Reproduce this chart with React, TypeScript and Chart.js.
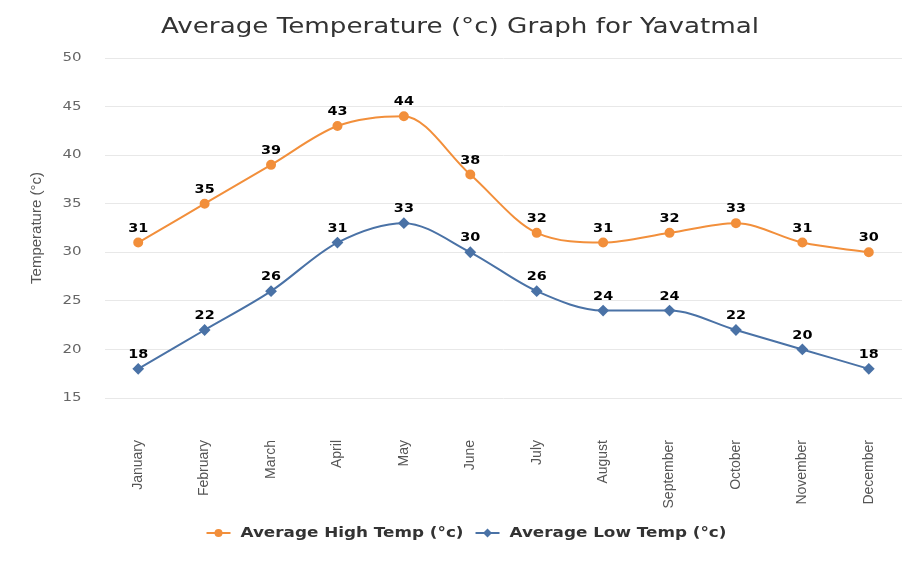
import React, { useEffect, useRef } from "react";
import { Chart, registerables } from "chart.js";

Chart.register(...registerables);

const months = ["January", "February", "March", "April", "May", "June", "July", "August", "September", "October", "November", "December"];
const highTemps = [31, 35, 39, 43, 44, 38, 32, 31, 32, 33, 31, 30];
const lowTemps = [18, 22, 26, 31, 33, 30, 26, 24, 24, 22, 20, 18];
const highLabel = "Average High Temp (°c)";
const lowLabel = "Average Low Temp (°c)";
const chartTitle = "Average Temperature (°c) Graph for Yavatmal";
const yTitle = "Temperature (°c)";

const ORANGE = "#f28f3b";
const BLUE = "#4a72a6";

function stretchText(ctx: CanvasRenderingContext2D, text: string, x: number, y: number, align: CanvasTextAlign, sx: number) {
  ctx.save();
  ctx.translate(x, y);
  ctx.scale(sx, 1);
  ctx.textAlign = align;
  ctx.fillText(text, 0, 0);
  ctx.restore();
}

const textPlugin = {
  id: "textPlugin",
  afterDraw(chart: any) {
    const ctx: CanvasRenderingContext2D = chart.ctx;
    ctx.save();
    ctx.textBaseline = "middle";

    // title
    ctx.fillStyle = "#333";
    ctx.font = "22px 'DejaVu Sans'";
    stretchText(ctx, chartTitle, 460, 27, "center", 1.19);

    // y tick labels
    const ys = chart.scales.y;
    ctx.fillStyle = "#666";
    ctx.font = "12px 'DejaVu Sans'";
    ys.ticks.forEach((t: any) => {
      stretchText(ctx, String(t.value), 81.5, ys.getPixelForValue(t.value), "right", 1.25);
    });

    // legend
    const sx = 1.2;
    ctx.font = "bold 14px 'DejaVu Sans'";
    const items = [
      { label: highLabel, color: ORANGE, style: "circle" },
      { label: lowLabel, color: BLUE, style: "diamond" },
    ];
    const iconW = 24;
    const gap = 10;
    const itemGap = 12;
    const widths = items.map((it) => ctx.measureText(it.label).width * sx);
    const total = widths.reduce((a, w) => a + iconW + gap + w, 0) + itemGap;
    let x = 466.5 - total / 2;
    const ly = 533;
    items.forEach((it, i) => {
      ctx.strokeStyle = it.color;
      ctx.fillStyle = it.color;
      ctx.lineWidth = 2;
      ctx.beginPath();
      ctx.moveTo(x, ly);
      ctx.lineTo(x + iconW, ly);
      ctx.stroke();
      const cx = x + iconW / 2;
      ctx.beginPath();
      if (it.style === "circle") {
        ctx.arc(cx, ly, 4, 0, Math.PI * 2);
      } else {
        ctx.moveTo(cx, ly - 4.5);
        ctx.lineTo(cx + 4.5, ly);
        ctx.lineTo(cx, ly + 4.5);
        ctx.lineTo(cx - 4.5, ly);
        ctx.closePath();
      }
      ctx.fill();
      ctx.fillStyle = "#333";
      stretchText(ctx, it.label, x + iconW + gap, ly, "left", sx);
      x += iconW + gap + widths[i] + itemGap;
    });

    ctx.restore();
  },
  afterDatasetsDraw(chart: any) {
    const ctx: CanvasRenderingContext2D = chart.ctx;
    ctx.save();
    ctx.font = "bold 12px 'DejaVu Sans'";
    ctx.textBaseline = "middle";
    ctx.fillStyle = "#000";
    chart.data.datasets.forEach((ds: any, i: number) => {
      const meta = chart.getDatasetMeta(i);
      meta.data.forEach((pt: any, j: number) => {
        stretchText(ctx, String(ds.data[j]), pt.x, pt.y - 14, "center", 1.2);
      });
    });
    ctx.restore();
  },
};

export default function App() {
  const ref = useRef<HTMLCanvasElement>(null);
  useEffect(() => {
    const chart = new Chart(ref.current!, {
      type: "line",
      data: {
        labels: months,
        datasets: [
          {
            label: highLabel,
            data: highTemps,
            borderColor: ORANGE,
            backgroundColor: ORANGE,
            borderWidth: 2,
            pointRadius: 4,
            pointHoverRadius: 4,
            pointStyle: "circle",
            cubicInterpolationMode: "monotone",
          },
          {
            label: lowLabel,
            data: lowTemps,
            borderColor: BLUE,
            backgroundColor: BLUE,
            borderWidth: 2,
            pointRadius: 4.5,
            pointHoverRadius: 4.5,
            pointStyle: "rectRot",
            cubicInterpolationMode: "monotone",
          },
        ],
      },
      options: {
        responsive: false,
        animation: false,
        layout: { padding: { left: 0, right: 11, top: 58, bottom: 51 } },
        scales: {
          x: {
            offset: true,
            grid: { display: false, drawTicks: false },
            border: { display: false },
            ticks: {
              minRotation: 90,
              maxRotation: 90,
              padding: 42,
              color: "#555",
              font: { family: "'Liberation Sans Narrow', 'Liberation Sans'", size: 14 },
            },
            afterFit: (s: any) => {
              s.height = 117;
              s.paddingLeft = 0;
              s.paddingRight = 0;
            },
          },
          y: {
            min: 15,
            max: 50,
            ticks: { stepSize: 5, display: false },
            grid: { color: "#e8e8e8", drawTicks: false, lineWidth: 1 },
            border: { display: false },
            title: {
              display: true,
              text: yTitle,
              color: "#555",
              font: { family: "'Liberation Sans Narrow', 'Liberation Sans'", size: 15 },
              padding: { top: 28, bottom: 0 },
            },
            afterFit: (s: any) => {
              s.width = 105;
              s.paddingTop = 0;
              s.paddingBottom = 0;
            },
          },
        },
        plugins: {
          title: { display: false },
          legend: { display: false },
          tooltip: { enabled: false },
        },
      },
      plugins: [textPlugin],
    });
    return () => chart.destroy();
  }, []);
  return (
    <div style={{ position: "fixed", left: 0, top: 0, width: 913, height: 566, background: "#fff" }}>
      <canvas ref={ref} width={913} height={566} />
    </div>
  );
}
